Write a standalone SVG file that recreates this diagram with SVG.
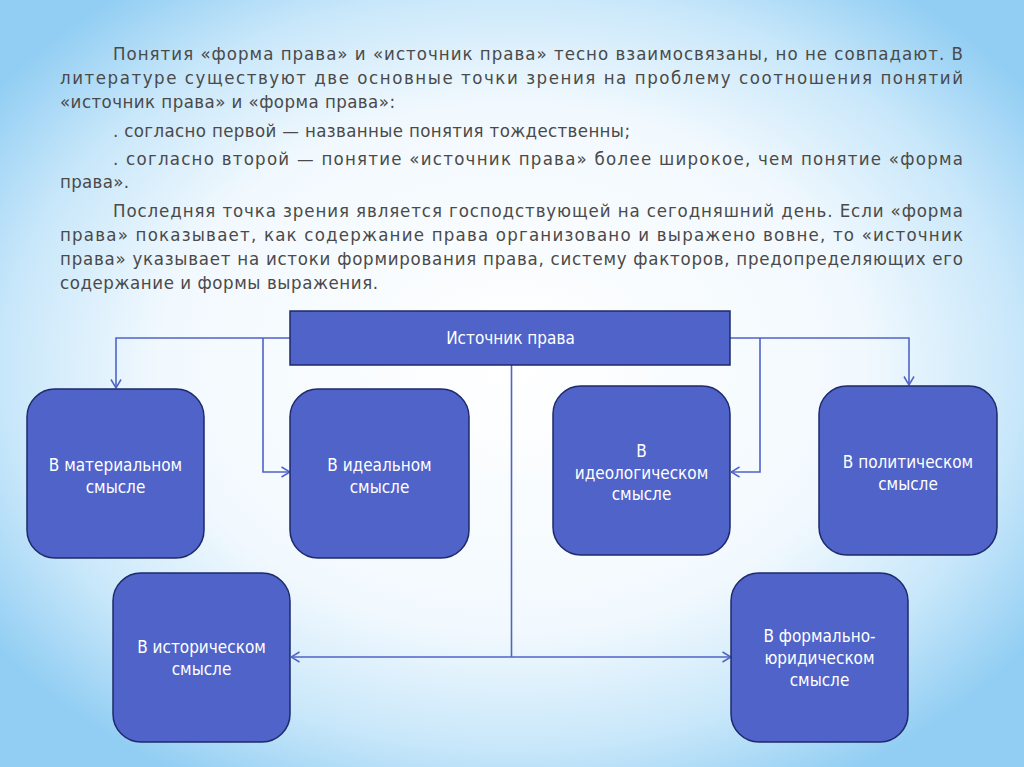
<svg xmlns="http://www.w3.org/2000/svg" width="1024" height="767" viewBox="0 0 1024 767">
<defs>
<radialGradient id="bg" cx="0.5" cy="0.48" r="0.62">
<stop offset="0" stop-color="#ffffff"/>
<stop offset="0.55" stop-color="#f2f9fe"/>
<stop offset="0.8" stop-color="#c8e7fa"/>
<stop offset="1" stop-color="#92cef3"/>
</radialGradient>
<marker id="arr" viewBox="0 0 10 12" refX="9.5" refY="6" markerWidth="10" markerHeight="12" markerUnits="userSpaceOnUse" orient="auto">
<path d="M1,1 L9.5,6 L1,11" fill="none" stroke="#4f63c9" stroke-width="1.5"/>
</marker>
<marker id="arrs" viewBox="0 0 10 12" refX="0.5" refY="6" markerWidth="10" markerHeight="12" markerUnits="userSpaceOnUse" orient="auto">
<path d="M9,1 L0.5,6 L9,11" fill="none" stroke="#4f63c9" stroke-width="1.5"/>
</marker>
</defs>
<style>
.para{font-family:"DejaVu Sans Condensed","DejaVu Sans","Liberation Sans",sans-serif;font-stretch:condensed;font-size:18.5px;fill:#4a4a4a}
.box{fill:#4f63c9;stroke:#1e2a6a;stroke-width:1.5}
.lbl{font-family:"DejaVu Sans Condensed","DejaVu Sans","Liberation Sans",sans-serif;font-stretch:condensed;font-size:17px;fill:#ffffff;text-anchor:middle}
.con{fill:none;stroke:#4f63c9;stroke-width:1.6}
</style>
<rect x="0" y="0" width="1024" height="767" fill="url(#bg)"/>
<g id="paragraph">
<text class="para" x="113" y="60" textLength="850" lengthAdjust="spacing">Понятия «форма права» и «источник права» тесно взаимосвязаны, но не совпадают. В</text>
<text class="para" x="60" y="84" textLength="903" lengthAdjust="spacing">литературе существуют две основные точки зрения на проблему соотношения понятий</text>
<text class="para" x="60" y="108" textLength="335" lengthAdjust="spacing">«источник права» и «форма права»:</text>
<text class="para" x="113" y="137" textLength="517" lengthAdjust="spacing">. согласно первой — названные понятия тождественны;</text>
<text class="para" x="113" y="165" textLength="850" lengthAdjust="spacing">. согласно второй — понятие «источник права» более широкое, чем понятие «форма</text>
<text class="para" x="60" y="188" textLength="69" lengthAdjust="spacing">права».</text>
<text class="para" x="113" y="217" textLength="850" lengthAdjust="spacing">Последняя точка зрения является господствующей на сегодняшний день. Если «форма</text>
<text class="para" x="60" y="241" textLength="903" lengthAdjust="spacing">права» показывает, как содержание права организовано и выражено вовне, то «источник</text>
<text class="para" x="60" y="265" textLength="903" lengthAdjust="spacing">права» указывает на истоки формирования права, систему факторов, предопределяющих его</text>
<text class="para" x="60" y="289" textLength="318" lengthAdjust="spacing">содержание и формы выражения.</text>
</g>
<g id="connectors">
<polyline class="con" points="291,338 116,338 116,388" marker-end="url(#arr)"/>
<polyline class="con" points="263,338 263,472 290,472" marker-end="url(#arr)"/>
<polyline class="con" points="730,338 909,338 909,385" marker-end="url(#arr)"/>
<polyline class="con" points="760,338 760,472 731,472" marker-end="url(#arr)"/>
<line class="con" x1="511.5" y1="365" x2="511.5" y2="657"/>
<line class="con" x1="291" y1="657" x2="731" y2="657" marker-start="url(#arrs)" marker-end="url(#arr)"/>
</g>
<g id="n-source">
<rect class="box" x="290" y="311" width="440" height="54"/>
<text class="lbl" x="510.5" y="344">Источник права</text>
</g>
<g id="n-material">
<rect class="box" x="27" y="389" width="177" height="169" rx="28"/>
<text class="lbl" x="115.5" y="471">В материальном</text>
<text class="lbl" x="115.5" y="493">смысле</text>
</g>
<g id="n-ideal">
<rect class="box" x="290" y="389" width="179" height="169" rx="28"/>
<text class="lbl" x="379.5" y="471">В идеальном</text>
<text class="lbl" x="379.5" y="493">смысле</text>
</g>
<g id="n-ideological">
<rect class="box" x="553" y="386" width="177" height="169" rx="28"/>
<text class="lbl" x="641.5" y="457">В</text>
<text class="lbl" x="641.5" y="479">идеологическом</text>
<text class="lbl" x="641.5" y="500">смысле</text>
</g>
<g id="n-political">
<rect class="box" x="819" y="386" width="178" height="169" rx="28"/>
<text class="lbl" x="908" y="468">В политическом</text>
<text class="lbl" x="908" y="490">смысле</text>
</g>
<g id="n-historical">
<rect class="box" x="113" y="573" width="177" height="169" rx="28"/>
<text class="lbl" x="201.5" y="653">В историческом</text>
<text class="lbl" x="201.5" y="675">смысле</text>
</g>
<g id="n-formal">
<rect class="box" x="731" y="573" width="177" height="169" rx="28"/>
<text class="lbl" x="819.5" y="642">В формально-</text>
<text class="lbl" x="819.5" y="664">юридическом</text>
<text class="lbl" x="819.5" y="686">смысле</text>
</g>
</svg>
